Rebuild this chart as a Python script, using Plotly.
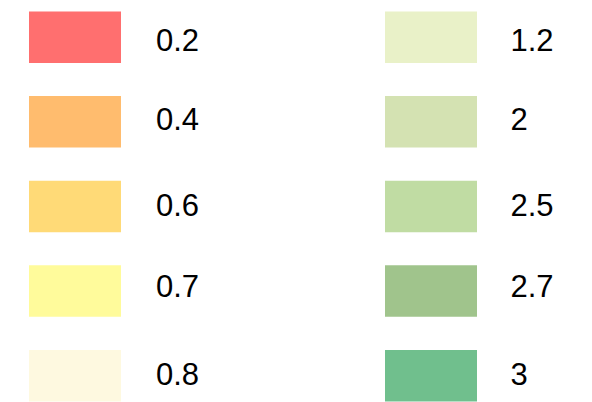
import plotly.graph_objects as go

# Legend entries: value labels and their swatch colours, two columns of five
left_labels = ["0.2", "0.4", "0.6", "0.7", "0.8"]
left_colors = ["#FF6F6F", "#FFBC6E", "#FFDA77", "#FFFB9B", "#FEF9E0"]
right_labels = ["1.2", "2", "2.5", "2.7", "3"]
right_colors = ["#E9F1C8", "#D4E2B2", "#C0DCA3", "#A0C48C", "#70BF8D"]

W, H = 592, 402
ROW_TOP = 11.5
ROW_STEP = 84.6
BOX_H = 51.5
BOX_W = 92
# vertical centres of the label text in each row
TEXT_Y = [43, 122, 208, 289.5, 377]
columns = [
    (left_labels, left_colors, 29, 156),
    (right_labels, right_colors, 385, 510.5),
]

fig = go.Figure()
shapes = []
for labels, colors, box_x, text_x in columns:
    for i, col in enumerate(colors):
        y0 = ROW_TOP + ROW_STEP * i
        shapes.append(dict(type="rect", xref="x", yref="y",
                           x0=box_x, x1=box_x + BOX_W, y0=y0, y1=y0 + BOX_H,
                           fillcolor=col, line=dict(width=0), layer="below"))
    fig.add_trace(go.Scatter(
        x=[text_x] * len(labels), y=TEXT_Y, text=labels, mode="text",
        textposition="middle right",
        textfont=dict(family="Liberation Sans, Arial, sans-serif", size=31, color="#000000"),
        hoverinfo="skip", showlegend=False))

fig.update_layout(
    width=W, height=H,
    margin=dict(l=0, r=0, t=0, b=0),
    paper_bgcolor="white", plot_bgcolor="white",
    shapes=shapes,
    xaxis=dict(range=[0, W], visible=False, fixedrange=True),
    yaxis=dict(range=[H, 0], visible=False, fixedrange=True),
    showlegend=False,
)

fig.write_html("out.html")
